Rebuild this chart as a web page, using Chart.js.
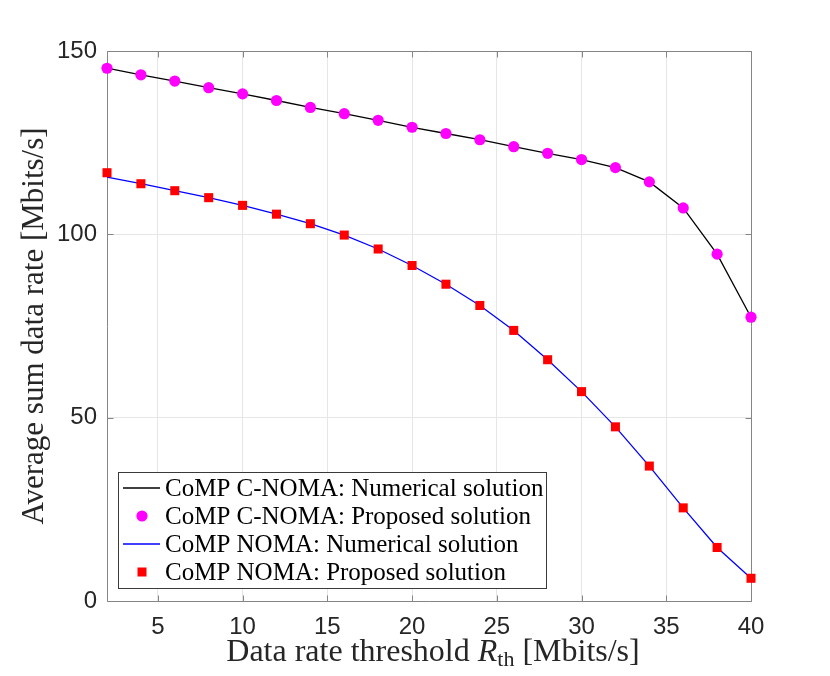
<!DOCTYPE html>
<html>
<head>
<meta charset="utf-8">
<script src="https://cdn.jsdelivr.net/npm/chart.js@4.4.0/dist/chart.umd.min.js"></script>
<style>
  html, body { margin: 0; padding: 0; background: #fff; }
  #wrap { width: 830px; height: 676px; }
</style>
</head>
<body>
<div id="wrap"><canvas id="rateChart" width="830" height="676"></canvas></div>
<script>
// Data
const thresholds = [2, 4, 6, 8, 10, 12, 14, 16, 18, 20, 22, 24, 26, 28, 30, 32, 34, 36, 38, 40];
const cnomaNumerical = [145.3, 143.5, 141.8, 140.0, 138.3, 136.5, 134.6, 132.9, 131.1, 129.2, 127.5, 125.8, 123.9, 122.1, 120.4, 118.2, 114.3, 107.2, 94.6, 77.4];
const cnomaProposed = [145.3, 143.5, 141.8, 140.0, 138.3, 136.5, 134.6, 132.9, 131.1, 129.2, 127.5, 125.8, 123.9, 122.1, 120.4, 118.2, 114.3, 107.2, 94.6, 77.4];
const nomaNumerical = [115.6, 113.8, 111.9, 110.0, 107.9, 105.5, 102.9, 99.8, 96.0, 91.5, 86.4, 80.6, 73.8, 65.8, 57.1, 47.5, 36.8, 25.4, 14.6, 6.2];
const nomaProposed = [116.8, 113.8, 111.9, 110.0, 107.9, 105.5, 102.9, 99.8, 96.0, 91.5, 86.4, 80.6, 73.8, 65.8, 57.1, 47.5, 36.8, 25.4, 14.6, 6.2];
const xTicks = [5, 10, 15, 20, 25, 30, 35, 40];
const yTicks = [0, 50, 100, 150];

const legendLabels = [
  'CoMP C-NOMA: Numerical solution',
  'CoMP C-NOMA: Proposed solution',
  'CoMP NOMA: Numerical solution',
  'CoMP NOMA: Proposed solution'
];

const frameColor = '#858585';
const textColor = '#262626';

function toPoints(ys) {
  return thresholds.map((x, i) => ({ x: x, y: ys[i] }));
}

// frame with inward tick marks, like the original axes box
const boxPlugin = {
  id: 'box',
  beforeDatasetsDraw(chart) {
    const { ctx, chartArea: a, scales } = chart;
    const L = Math.round(a.left) + 0.5, R = Math.round(a.right) + 0.5;
    const T = Math.round(a.top) + 0.5, B = Math.round(a.bottom) + 0.5;
    ctx.save();
    ctx.strokeStyle = frameColor;
    ctx.lineWidth = 1;
    ctx.beginPath();
    ctx.rect(L, T, R - L, B - T);
    xTicks.forEach(v => {
      const px = Math.round(scales.x.getPixelForValue(v)) + 0.5;
      ctx.moveTo(px, B); ctx.lineTo(px, B - 6);
      ctx.moveTo(px, T); ctx.lineTo(px, T + 6);
    });
    yTicks.forEach(v => {
      const py = Math.round(scales.y.getPixelForValue(v)) + 0.5;
      ctx.moveTo(L, py); ctx.lineTo(L + 6, py);
      ctx.moveTo(R, py); ctx.lineTo(R - 6, py);
    });
    ctx.stroke();
    ctx.restore();
  }
};

// axis titles (x title has the italic R with subscript "th")
const titlesPlugin = {
  id: 'titles',
  afterDraw(chart) {
    const { ctx, chartArea: a } = chart;
    ctx.save();
    ctx.fillStyle = textColor;
    ctx.textBaseline = 'alphabetic';
    ctx.textAlign = 'left';

    const big = '32px "Liberation Serif"';
    const parts = [
      { t: 'Data rate threshold ', f: big, dy: 0 },
      { t: 'R', f: 'italic 32px "Liberation Serif"', dy: 0 },
      { t: 'th', f: '22px "Liberation Serif"', dy: 5 },
      { t: ' [Mbits/s]', f: big, dy: 0 }
    ];
    let total = 0;
    parts.forEach(p => { ctx.font = p.f; p.w = ctx.measureText(p.t).width; total += p.w; });
    let x = (a.left + a.right) / 2 + 4 - total / 2;
    const base = 661;
    parts.forEach(p => { ctx.font = p.f; ctx.fillText(p.t, x, base + p.dy); x += p.w; });

    ctx.translate(43, (a.top + a.bottom) / 2);
    ctx.rotate(-Math.PI / 2);
    ctx.font = '31px "Liberation Serif"';
    ctx.textAlign = 'center';
    ctx.fillText('Average sum data rate [Mbits/s]', 0, 0);
    ctx.restore();
  }
};

// legend box in the lower left corner of the plot
const legendPlugin = {
  id: 'boxLegend',
  afterDraw(chart) {
    const { ctx } = chart;
    const left = 118.5, top = 472.5, w = 428, h = 116;
    ctx.save();
    ctx.fillStyle = '#ffffff';
    ctx.fillRect(left, top, w, h);
    ctx.strokeStyle = '#3a3a3a';
    ctx.lineWidth = 1;
    ctx.strokeRect(left, top, w, h);
    ctx.font = '25px "Liberation Serif"';
    ctx.textBaseline = 'middle';
    ctx.textAlign = 'left';
    const rowY = [488, 516, 544, 572];
    legendLabels.forEach((label, i) => {
      const y = rowY[i];
      if (i === 0 || i === 2) {
        ctx.strokeStyle = i === 0 ? '#000000' : '#0000ff';
        ctx.lineWidth = 1.3;
        ctx.beginPath();
        ctx.moveTo(123, y); ctx.lineTo(160, y);
        ctx.stroke();
      } else if (i === 1) {
        ctx.fillStyle = '#ff00ff';
        ctx.beginPath();
        ctx.arc(142, y, 5.6, 0, Math.PI * 2);
        ctx.fill();
      } else {
        ctx.fillStyle = '#ff0000';
        ctx.fillRect(137.5, y - 4.5, 9, 9);
      }
      ctx.fillStyle = '#000000';
      ctx.fillText(label, 165, y + 1);
    });
    ctx.restore();
  }
};

const ctx = document.getElementById('rateChart').getContext('2d');
new Chart(ctx, {
  type: 'scatter',
  data: {
    datasets: [
      {
        label: legendLabels[0],
        data: toPoints(cnomaNumerical),
        showLine: true,
        borderColor: '#000000',
        borderWidth: 1.3,
        pointRadius: 0,
        clip: false,
        order: 2
      },
      {
        label: legendLabels[1],
        data: toPoints(cnomaProposed),
        showLine: false,
        pointStyle: 'circle',
        pointRadius: 5.6,
        backgroundColor: '#ff00ff',
        borderWidth: 0,
        clip: false,
        order: 1
      },
      {
        label: legendLabels[2],
        data: toPoints(nomaNumerical),
        showLine: true,
        borderColor: '#0000ff',
        borderWidth: 1.3,
        pointRadius: 0,
        clip: false,
        order: 2
      },
      {
        label: legendLabels[3],
        data: toPoints(nomaProposed),
        showLine: false,
        pointStyle: 'rect',
        pointRadius: 6.4,
        backgroundColor: '#ff0000',
        borderWidth: 0,
        clip: false,
        order: 1
      }
    ]
  },
  options: {
    responsive: false,
    animation: false,
    layout: { padding: { left: 0, right: 79, top: 51, bottom: 0 } },
    plugins: {
      legend: { display: false },
      tooltip: { enabled: false }
    },
    scales: {
      x: {
        type: 'linear',
        min: 2,
        max: 40,
        afterBuildTicks: scale => { scale.ticks = xTicks.map(v => ({ value: v })); },
        afterFit: scale => { scale.height = 75; },
        grid: { color: '#e6e6e6', drawTicks: false },
        border: { display: false },
        ticks: {
          color: textColor,
          padding: 12,
          maxRotation: 0,
          autoSkip: false,
          font: { family: '"Liberation Sans"', size: 24 }
        }
      },
      y: {
        type: 'linear',
        min: 0,
        max: 150,
        afterBuildTicks: scale => { scale.ticks = yTicks.map(v => ({ value: v })); },
        afterFit: scale => { scale.width = 107; },
        grid: { color: '#e6e6e6', drawTicks: false },
        border: { display: false },
        ticks: {
          color: textColor,
          padding: 10,
          font: { family: '"Liberation Sans"', size: 24 }
        }
      }
    }
  },
  plugins: [boxPlugin, titlesPlugin, legendPlugin]
});
</script>
</body>
</html>
